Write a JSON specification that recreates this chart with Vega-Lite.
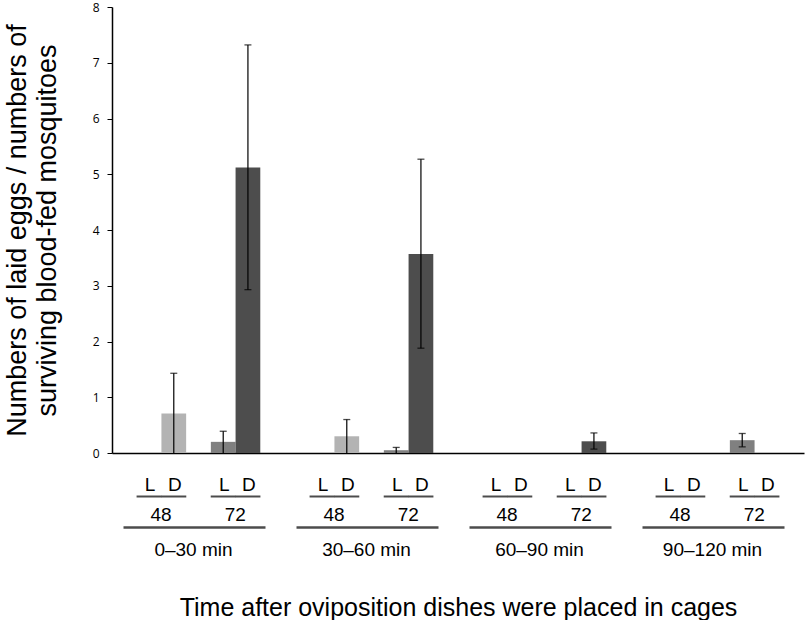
{
  "$schema": "https://vega.github.io/schema/vega-lite/v6.json",
  "padding": {"left": 3, "top": 1, "right": 1, "bottom": 0},
  "background": "white",
  "bounds": "flush",
  "spacing": 28,
  "config": {"view": {"stroke": null}, "font": "Liberation Sans"},
  "vconcat": [
    {
      "width": 692,
      "height": 446,
      "data": {"values": [
        {"time": "0–30 min", "slot": "48L", "mean": 0},
        {"time": "0–30 min", "slot": "48D", "mean": 0.71, "lo": 0, "hi": 1.43},
        {"time": "0–30 min", "slot": "72L", "mean": 0.2, "lo": 0, "hi": 0.39},
        {"time": "0–30 min", "slot": "72D", "mean": 5.12, "lo": 2.93, "hi": 7.32},
        {"time": "30–60 min", "slot": "48L", "mean": 0},
        {"time": "30–60 min", "slot": "48D", "mean": 0.3, "lo": 0, "hi": 0.6},
        {"time": "30–60 min", "slot": "72L", "mean": 0.05, "lo": 0, "hi": 0.1},
        {"time": "30–60 min", "slot": "72D", "mean": 3.57, "lo": 1.88, "hi": 5.27},
        {"time": "60–90 min", "slot": "48L", "mean": 0},
        {"time": "60–90 min", "slot": "48D", "mean": 0},
        {"time": "60–90 min", "slot": "72L", "mean": 0},
        {"time": "60–90 min", "slot": "72D", "mean": 0.21, "lo": 0.07, "hi": 0.36},
        {"time": "90–120 min", "slot": "48L", "mean": 0},
        {"time": "90–120 min", "slot": "48D", "mean": 0},
        {"time": "90–120 min", "slot": "72L", "mean": 0.23, "lo": 0.11, "hi": 0.35},
        {"time": "90–120 min", "slot": "72D", "mean": 0}
      ]},
      "encoding": {
        "x": {
          "field": "time", "type": "nominal",
          "sort": ["0–30 min", "30–60 min", "60–90 min", "90–120 min"],
          "scale": {"paddingInner": 0, "paddingOuter": 0},
          "axis": {"title": null, "labels": false, "ticks": false, "domainColor": "#000000", "domainWidth": 1.5}
        },
        "xOffset": {
          "field": "slot", "type": "nominal",
          "scale": {"domain": ["48L", "48D", "gap", "72L", "72D"], "paddingInner": 0, "paddingOuter": 1}
        }
      },
      "layer": [
        {
          "mark": {"type": "bar"},
          "encoding": {
            "y": {
              "field": "mean", "type": "quantitative",
              "scale": {"domain": [0, 8]},
              "axis": {
                "title": ["Numbers of laid eggs / numbers of", "surviving blood-fed mosquitoes"],
                "titleFont": "Liberation Sans", "titleFontSize": 27, "titleFontWeight": "normal",
                "titleColor": "#000000", "titleLineHeight": 30, "titlePadding": 31,
                "values": [0, 1, 2, 3, 4, 5, 6, 7, 8], "format": "d",
                "grid": false, "tickSize": 5, "tickColor": "#000000",
                "domainColor": "#000000", "domainWidth": 1.5,
                "labelFont": "Open Sans", "labelFontSize": 12, "labelColor": "#000000", "labelPadding": 8
              }
            },
            "color": {
              "field": "slot", "type": "nominal",
              "scale": {"domain": ["48L", "48D", "72L", "72D"], "range": ["#d9d9d9", "#b3b3b3", "#808080", "#4d4d4d"]},
              "legend": null
            }
          }
        },
        {
          "transform": [{"filter": "isValid(datum.hi)"}],
          "mark": {"type": "rule", "color": "#000000", "strokeWidth": 1.2},
          "encoding": {
            "y": {"field": "lo", "type": "quantitative"},
            "y2": {"field": "hi"}
          }
        },
        {
          "transform": [{"filter": "isValid(datum.hi)"}],
          "mark": {"type": "tick", "orient": "horizontal", "color": "#000000", "size": 7, "thickness": 1.3},
          "encoding": {"y": {"field": "hi", "type": "quantitative"}}
        },
        {
          "transform": [{"filter": "isValid(datum.hi) && datum.lo > 0"}],
          "mark": {"type": "tick", "orient": "horizontal", "color": "#000000", "size": 7, "thickness": 1.3},
          "encoding": {"y": {"field": "lo", "type": "quantitative"}}
        }
      ]
    },
    {
      "width": 692,
      "height": 62,
      "data": {"values": [
        {"time": "0–30 min", "kind": "ld", "slot": "48L", "label": "L"},
        {"time": "0–30 min", "kind": "ld", "slot": "48D", "label": "D"},
        {"time": "0–30 min", "kind": "ld", "slot": "72L", "label": "L"},
        {"time": "0–30 min", "kind": "ld", "slot": "72D", "label": "D"},
        {"time": "0–30 min", "kind": "hr", "slot": "48L", "label": "48"},
        {"time": "0–30 min", "kind": "hr", "slot": "72L", "label": "72"},
        {"time": "0–30 min", "kind": "tm", "label": "0–30 min"},
        {"time": "30–60 min", "kind": "ld", "slot": "48L", "label": "L"},
        {"time": "30–60 min", "kind": "ld", "slot": "48D", "label": "D"},
        {"time": "30–60 min", "kind": "ld", "slot": "72L", "label": "L"},
        {"time": "30–60 min", "kind": "ld", "slot": "72D", "label": "D"},
        {"time": "30–60 min", "kind": "hr", "slot": "48L", "label": "48"},
        {"time": "30–60 min", "kind": "hr", "slot": "72L", "label": "72"},
        {"time": "30–60 min", "kind": "tm", "label": "30–60 min"},
        {"time": "60–90 min", "kind": "ld", "slot": "48L", "label": "L"},
        {"time": "60–90 min", "kind": "ld", "slot": "48D", "label": "D"},
        {"time": "60–90 min", "kind": "ld", "slot": "72L", "label": "L"},
        {"time": "60–90 min", "kind": "ld", "slot": "72D", "label": "D"},
        {"time": "60–90 min", "kind": "hr", "slot": "48L", "label": "48"},
        {"time": "60–90 min", "kind": "hr", "slot": "72L", "label": "72"},
        {"time": "60–90 min", "kind": "tm", "label": "60–90 min"},
        {"time": "90–120 min", "kind": "ld", "slot": "48L", "label": "L"},
        {"time": "90–120 min", "kind": "ld", "slot": "48D", "label": "D"},
        {"time": "90–120 min", "kind": "ld", "slot": "72L", "label": "L"},
        {"time": "90–120 min", "kind": "ld", "slot": "72D", "label": "D"},
        {"time": "90–120 min", "kind": "hr", "slot": "48L", "label": "48"},
        {"time": "90–120 min", "kind": "hr", "slot": "72L", "label": "72"},
        {"time": "90–120 min", "kind": "tm", "label": "90–120 min"}
      ]},
      "encoding": {
        "x": {
          "field": "time", "type": "nominal",
          "sort": ["0–30 min", "30–60 min", "60–90 min", "90–120 min"],
          "scale": {"paddingInner": 0, "paddingOuter": 0},
          "axis": {
            "title": "Time after oviposition dishes were placed in cages",
            "titleFont": "Liberation Sans", "titleFontSize": 25, "titleFontWeight": "normal",
            "titleColor": "#000000", "titlePadding": 52,
            "labels": false, "ticks": false, "domain": false
          }
        }
      },
      "layer": [
        {
          "transform": [{"filter": "datum.kind === 'ld'"}],
          "mark": {"type": "text", "font": "Liberation Sans", "fontSize": 19, "color": "#000000", "baseline": "middle", "dy": 4, "dx": 1},
          "encoding": {
            "xOffset": {"field": "slot", "type": "nominal", "scale": {"domain": ["48L", "48D", "gap", "72L", "72D"], "paddingInner": 0, "paddingOuter": 1}},
            "y": {"datum": "LD", "type": "nominal", "scale": {"type": "point", "domain": ["LD", "u1", "hr", "u2", "tm"], "padding": 0}, "axis": null},
            "text": {"field": "label"}
          }
        },
        {
          "transform": [{"filter": "datum.kind === 'ld'"}],
          "mark": {"type": "tick", "orient": "horizontal", "color": "#000000", "size": 25, "thickness": 2},
          "encoding": {
            "xOffset": {"field": "slot", "type": "nominal"},
            "y": {"datum": "u1", "type": "nominal"}
          }
        },
        {
          "transform": [{"filter": "datum.kind === 'hr'"}],
          "mark": {"type": "text", "font": "Liberation Sans", "fontSize": 19, "color": "#000000", "baseline": "middle", "dy": 3, "dx": 12},
          "encoding": {
            "xOffset": {"field": "slot", "type": "nominal"},
            "y": {"datum": "hr", "type": "nominal"},
            "text": {"field": "label"}
          }
        },
        {
          "transform": [{"filter": "datum.kind === 'tm'"}],
          "mark": {"type": "tick", "orient": "horizontal", "color": "#000000", "size": 142, "thickness": 2.5, "xOffset": -4},
          "encoding": {
            "y": {"datum": "u2", "type": "nominal"}
          }
        },
        {
          "transform": [{"filter": "datum.kind === 'tm'"}],
          "mark": {"type": "text", "font": "Liberation Sans", "fontSize": 19, "color": "#000000", "baseline": "middle", "dy": 7, "dx": -5},
          "encoding": {
            "y": {"datum": "tm", "type": "nominal"},
            "text": {"field": "label"}
          }
        }
      ]
    }
  ]
}
